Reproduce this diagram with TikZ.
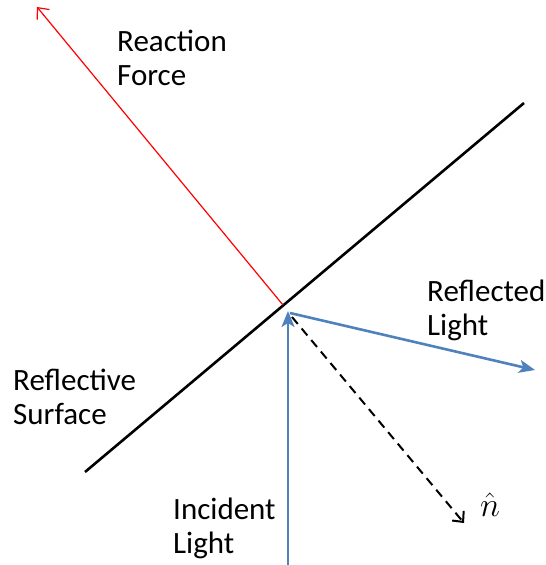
\RequirePackage{fix-cm}
\documentclass[tikz,border=0pt]{standalone}
\usepackage{fontspec}
\setmainfont{Carlito}
\usepackage{tikz}
\usetikzlibrary{arrows.meta, positioning}
\definecolor{lightray}{HTML}{4F81BD}
\definecolor{forcered}{HTML}{FF0000}
\tikzset{
  label/.style={font=\fontsize{31}{34}\selectfont, align=left, anchor=base west, inner sep=0pt},
  ray/.style={draw=lightray, line width=2.6pt, -{Stealth[length=16pt, width=13pt, inset=4pt]}},
  force/.style={draw=forcered, line width=1.2pt, -{Straight Barb[length=9pt, width=16pt]}},
  normal/.style={draw=black, line width=2pt, dash pattern=on 9pt off 6pt, -{Straight Barb[length=8pt, width=15pt]}},
}

\begin{document}
\begin{tikzpicture}[x=1pt, y=-1pt]
\useasboundingbox (0,0) rectangle (546,565);

% Surface
\coordinate (s1) at (85,472);
\coordinate (s2) at (524,103);
\draw[line width=2.6pt, black] (s1) -- (s2);

% Points on the surface
\coordinate (base) at (283,305);
\coordinate (hit) at (288,311);
\coordinate (out) at (290,313);
\coordinate (nstart) at (292,317);

% Ends
\coordinate (ftip) at (37,7);
\coordinate (inc) at (288,565);
\coordinate (rtip) at (535,370);
\coordinate (ntip) at (464,523);

% Rays
\draw[force] (base) -- (ftip);
\draw[ray] (inc) -- (hit);
\draw[ray] (out) -- (rtip);
\draw[normal] (nstart) -- (ntip);

% Labels (base = last line)
\node[label] (reaction) at (117,85) {Reaction\\Force};
\node[label] (reflected) at (427,335) {Reflected\\Light};
\node[label] (surface) at (13,424) {Reflective\\Surface};
\node[label] (incident) at (173,553) {Incident\\Light};
\node[font=\fontsize{34}{38}\selectfont] (nhat) at (490,505) {$\hat{n}$};

\end{tikzpicture}
\end{document}
